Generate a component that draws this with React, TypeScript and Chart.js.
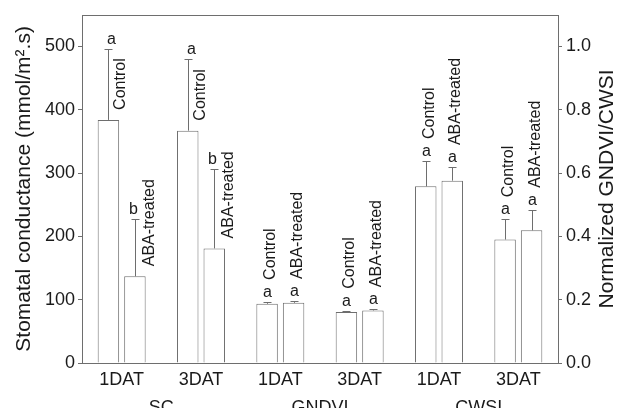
import React, { useEffect, useRef } from "react";
import { Chart, registerables } from "chart.js";

Chart.register(...registerables);

// ---- data ----
const categories = ["1DAT", "3DAT", "1DAT", "3DAT", "1DAT", "3DAT"];
const groupNames = ["SC", "GNDVI", "CWSI"];

// Stomatal conductance (left axis, mmol/m².s)
const scControl = [384, 367, null, null, null, null];
const scControlErr = [112, 113, null, null, null, null];
const scAba = [137, 181, null, null, null, null];
const scAbaErr = [90, 125, null, null, null, null];

// Normalized GNDVI / CWSI (right axis)
const normControl = [null, null, 0.187, 0.161, 0.558, 0.39];
const normControlErr = [null, null, 0.006, 0.004, 0.08, 0.064];
const normAba = [null, null, 0.19, 0.166, 0.576, 0.419];
const normAbaErr = [null, null, 0.006, 0.004, 0.043, 0.065];

const lettersControl = ["a", "a", "a", "a", "a", "a"];
const lettersAba = ["b", "b", "a", "a", "a", "a"];
const seriesNames = ["Control", "ABA-treated"];
const leftTitle = "Stomatal conductance (mmol/m\u00B2.s)";
const rightTitle = "Normalized GNDVI/CWSI";

const FONT = "'Liberation Sans', Arial, Helvetica, sans-serif";
const LINE = "#6e6e6e";
const TEXT = "#1a1a1a";

const errorsByDataset = [scControlErr, scAbaErr, normControlErr, normAbaErr];
const lettersByDataset = [lettersControl, lettersAba, lettersControl, lettersAba];
const nameByDataset = [seriesNames[0], seriesNames[1], seriesNames[0], seriesNames[1]];

const annotationPlugin = {
  id: "annotations",
  afterDatasetsDraw(chart: any) {
    const ctx = chart.ctx;
    ctx.save();
    chart.data.datasets.forEach((ds: any, di: number) => {
      const meta = chart.getDatasetMeta(di);
      const scale = chart.scales[ds.yAxisID];
      meta.data.forEach((el: any, i: number) => {
        const v = ds.data[i];
        if (v === null || v === undefined) return;
        const err = errorsByDataset[di][i] || 0;
        const x = Math.round(el.x) + 0.5;
        const top = scale.getPixelForValue(v + err);
        const beside = i < 2; // SC labels sit beside the error bar
        // error bar (upper only)
        ctx.strokeStyle = LINE;
        ctx.lineWidth = 1;
        ctx.beginPath();
        ctx.moveTo(x, el.y);
        ctx.lineTo(x, Math.round(top) + 0.5);
        ctx.moveTo(x - 4, Math.round(top) + 0.5);
        ctx.lineTo(x + 4, Math.round(top) + 0.5);
        ctx.stroke();
        // letter
        ctx.fillStyle = TEXT;
        ctx.font = `16px ${FONT}`;
        ctx.textAlign = "center";
        ctx.textBaseline = "alphabetic";
        const lx = beside ? (di % 2 === 0 ? x + 3 : x - 2) : x;
        ctx.fillText(lettersByDataset[di][i], lx, top - 5);
        // rotated series label
        ctx.save();
        ctx.textAlign = "left";
        ctx.textBaseline = "middle";
        if (beside) {
          ctx.translate(x + (di % 2 === 0 ? 11 : 13), el.y - 10);
        } else {
          ctx.translate(x + 2, top - 22);
        }
        ctx.rotate(-Math.PI / 2);
        ctx.fillText(nameByDataset[di], 0, 1);
        ctx.restore();
      });
    });
    // frame
    const a = chart.chartArea;
    ctx.strokeStyle = LINE;
    ctx.lineWidth = 1;
    ctx.strokeRect(Math.round(a.left) + 0.5, Math.round(a.top) + 0.5, Math.round(a.right - a.left), Math.round(a.bottom - a.top));
    // group labels
    const xs = chart.scales.x;
    ctx.fillStyle = TEXT;
    ctx.font = `18px ${FONT}`;
    ctx.textAlign = "center";
    ctx.textBaseline = "alphabetic";
    groupNames.forEach((g, gi) => {
      const cx = (xs.getPixelForValue(gi * 2) + xs.getPixelForValue(gi * 2 + 1)) / 2;
      ctx.fillText(g, cx, 413);
    });
    // right axis title (reads bottom to top)
    ctx.save();
    ctx.font = `21px ${FONT}`;
    ctx.textAlign = "center";
    ctx.textBaseline = "middle";
    ctx.translate(607, (a.top + a.bottom) / 2);
    ctx.rotate(-Math.PI / 2);
    ctx.fillText(rightTitle, 0, 0);
    ctx.restore();
    ctx.restore();
  },
};

export default function App() {
  const ref = useRef<HTMLCanvasElement | null>(null);
  useEffect(() => {
    document.body.style.margin = "0";
    const canvas = ref.current;
    if (!canvas) return;
    const barStyle = {
      backgroundColor: "#ffffff",
      borderColor: LINE,
      borderWidth: 1,
      categoryPercentage: 0.668,
      barPercentage: 0.81,
    };
    const chart = new Chart(canvas, {
      type: "bar",
      data: {
        labels: categories,
        datasets: [
          { label: "SC Control", data: scControl, yAxisID: "y", ...barStyle },
          { label: "SC ABA-treated", data: scAba, yAxisID: "y", ...barStyle },
          { label: "Norm Control", data: normControl, yAxisID: "y1", ...barStyle },
          { label: "Norm ABA-treated", data: normAba, yAxisID: "y1", ...barStyle },
        ],
      },
      options: {
        responsive: false,
        animation: false,
        skipNull: true,
        layout: { padding: { top: 14, left: 0, right: 0, bottom: 0 } },
        plugins: { legend: { display: false }, tooltip: { enabled: false } },
        scales: {
          x: {
            grid: { display: false },
            border: { display: false },
            ticks: { font: { size: 18, family: FONT }, color: TEXT, padding: -2, maxRotation: 0, autoSkip: false },
            afterFit: (s: any) => { s.height = 45; },
          },
          y: {
            position: "left",
            min: 0,
            max: 550,
            border: { display: false },
            grid: { drawOnChartArea: false, drawTicks: true, tickLength: 4, color: LINE },
            ticks: { stepSize: 100, includeBounds: false, font: { size: 18, family: FONT }, color: TEXT, padding: 3 },
            title: {
              display: true,
              text: leftTitle,
              font: { size: 21, family: FONT, lineHeight: 1 },
              color: TEXT,
              padding: { top: 14, bottom: 0 },
            },
            afterFit: (s: any) => { s.width = 82; },
          },
          y1: {
            position: "right",
            min: 0,
            max: 1.1,
            border: { display: false },
            grid: { drawOnChartArea: false, drawTicks: true, tickLength: 4, color: LINE },
            ticks: {
              stepSize: 0.2,
              includeBounds: false,
              font: { size: 18, family: FONT },
              color: TEXT,
              padding: 4,
              callback: (v: any) => Number(v).toFixed(1),
            },
            title: { display: false },
            afterFit: (s: any) => { s.width = 59; },
          },
        },
      } as any,
      plugins: [annotationPlugin],
    });
    return () => chart.destroy();
  }, []);
  return <canvas ref={ref} width={617} height={408} style={{ display: "block", width: 617, height: 408 }} />;
}
